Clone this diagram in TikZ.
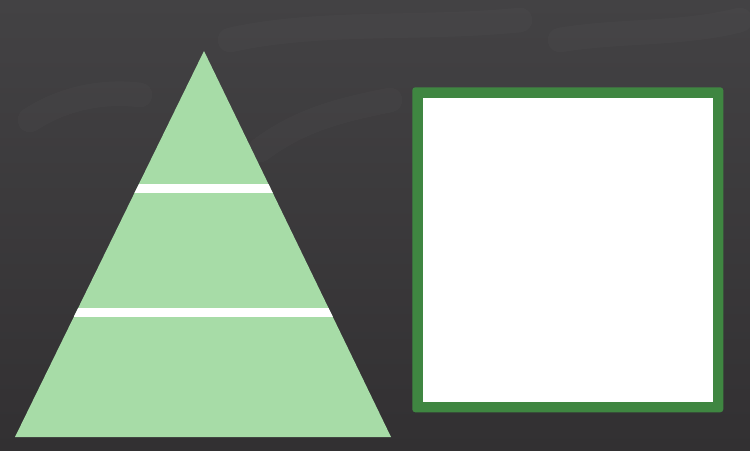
\documentclass[tikz,border=0pt]{standalone}
\usepackage{xcolor}
\usepackage{tikz}
\definecolor{boardtop}{HTML}{434244}
\definecolor{boardbottom}{HTML}{323032}
\definecolor{pyramidgreen}{HTML}{A7DCA7}
\definecolor{framegreen}{HTML}{3F8641}

\begin{document}
\begin{tikzpicture}[
    x=0.2mm,y=-0.2mm,
    band/.style={fill=white},
    chalk/.style={white,opacity=0.02,line width=14pt,line cap=round},
  ]
    % board
    \shade[top color=boardtop,bottom color=boardbottom] (0,0) rectangle (750,451);
    \useasboundingbox (0,0) rectangle (750,451);
    \draw[chalk] (230,40) .. controls (320,20) and (420,30) .. (520,20);
    \draw[chalk] (260,150) .. controls (300,120) and (340,110) .. (390,100);
    \draw[chalk] (560,40) .. controls (620,30) and (680,35) .. (740,20);
    \draw[chalk] (30,120) .. controls (60,100) and (100,90) .. (140,95);

    % pyramid
    \fill[pyramidgreen] (204,51) -- (391,437) -- (15,437) -- cycle;
    \begin{scope}
      \clip (204,51) -- (391,437) -- (15,437) -- cycle;
      \foreach \ytop/\ybot in {184/192.5,308/316.5}
        \fill[band] (0,\ytop) rectangle (750,\ybot);
    \end{scope}

    % frame
    \fill[framegreen,rounded corners=0.6mm] (412.3,87.3) rectangle (723.3,412.3);
    \fill[white] (422.7,97.7) rectangle (713.3,401.7);
\end{tikzpicture}
\end{document}
